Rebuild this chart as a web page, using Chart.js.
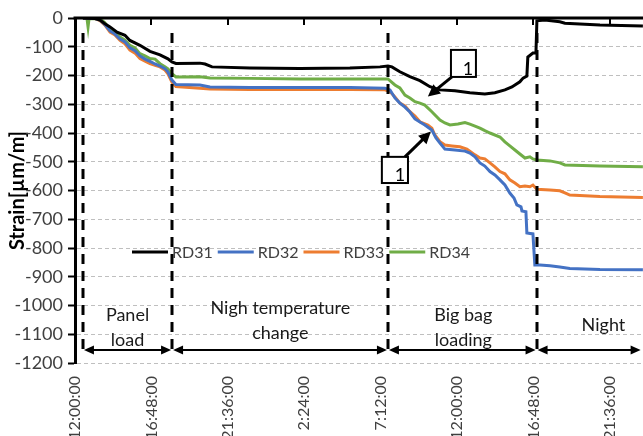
<!DOCTYPE html>
<html lang="en">
<head>
<meta charset="UTF-8">
<title>Strain RD31 - RD34</title>
<script src="https://cdn.jsdelivr.net/npm/chart.js"></script>
<style>
  html, body { margin: 0; padding: 0; background: #fff; }
  #wrap { width: 643px; height: 436px; overflow: hidden; }
  canvas { display: block; }
</style>
</head>
<body>
<div id="wrap"><canvas id="strainChart" width="660" height="480"></canvas></div>
<script>
// x axis: hours after 12:00:00 on the first day
const xTickValues = [0, 4.8, 9.6, 14.4, 19.2, 24, 28.8, 33.6];
const xTickLabels = ['12:00:00', '16:48:00', '21:36:00', '2:24:00', '7:12:00', '12:00:00', '16:48:00', '21:36:00'];
const yTickValues = [-1200, -1100, -1000, -900, -800, -700, -600, -500, -400, -300, -200, -100, 0];
const yTickLabels = ['-1200', '-1100', '-1000', '-900', '-800', '-700', '-600', '-500', '-400', '-300', '-200', '-100', '0'];

const seriesNames = ['RD31', 'RD32', 'RD33', 'RD34'];
const seriesColors = ['#000000', '#4472C4', '#ED7D31', '#70AD47'];

const rd31Hours = [0.50, 1.26, 1.57, 1.88, 2.20, 2.64, 3.14, 3.45, 4.08, 4.71, 5.34, 5.84, 6.09, 6.34, 7.85, 8.17, 8.61, 10.99, 14.13, 17.27, 19.16, 19.66, 19.91, 20.41, 21.04, 21.67, 22.30, 22.93, 23.87, 24.81, 25.75, 26.38, 27.01, 27.45, 27.64, 27.95, 28.15, 28.39, 28.45, 28.77, 28.96, 29.02, 29.52, 30.46, 30.78, 32.98, 35.68];
const rd31Strain = [0, -2, -7, -20, -31, -49, -60, -78, -95, -116, -128, -142, -153, -158, -157, -160, -170, -174, -176, -174, -170, -167, -170, -187, -204, -218, -239, -250, -253, -260, -264, -260, -250, -240, -233, -222, -209, -202, -136, -122, -122, -10, -7, -13, -18, -24, -28];

const rd32Hours = [0.50, 1.26, 1.57, 1.88, 2.20, 2.51, 2.83, 3.14, 3.45, 3.77, 4.08, 4.40, 4.71, 5.03, 5.34, 5.65, 5.84, 6.09, 6.34, 7.85, 8.48, 10.99, 14.13, 17.27, 19.47, 19.79, 20.10, 20.41, 20.73, 21.04, 21.36, 21.67, 21.98, 22.42, 22.68, 22.93, 23.24, 23.87, 24.50, 24.81, 25.13, 25.44, 25.75, 26.07, 26.38, 26.70, 27.01, 27.32, 27.58, 27.76, 28.02, 28.08, 28.33, 28.39, 28.77, 28.89, 29.21, 29.84, 30.46, 31.09, 32.98, 35.68];
const rd32Strain = [0, -2, -7, -23, -45, -56, -73, -83, -104, -114, -132, -143, -151, -160, -167, -176, -188, -216, -231, -233, -240, -242, -242, -242, -244, -250, -278, -296, -310, -327, -351, -362, -372, -390, -417, -435, -456, -459, -463, -470, -483, -504, -515, -534, -546, -563, -581, -609, -626, -650, -657, -671, -674, -748, -751, -859, -859, -862, -866, -871, -875, -876];

const rd33Hours = [0.50, 1.26, 1.57, 1.88, 2.20, 2.51, 2.83, 3.14, 3.45, 3.77, 4.08, 4.40, 4.71, 5.03, 5.34, 5.65, 5.84, 6.09, 6.34, 7.85, 8.48, 10.99, 14.13, 17.27, 19.47, 19.79, 20.10, 20.41, 20.73, 21.04, 21.36, 21.67, 22.17, 22.42, 22.61, 22.93, 23.24, 23.68, 24.18, 24.62, 25.13, 25.44, 25.75, 26.07, 26.38, 26.70, 27.01, 27.32, 27.64, 27.95, 28.27, 28.58, 28.77, 29.02, 29.84, 30.46, 30.78, 31.09, 32.98, 35.68];
const rd33Strain = [0, -2, -9, -25, -49, -59, -78, -90, -112, -122, -141, -150, -159, -165, -170, -181, -194, -223, -238, -244, -247, -249, -249, -249, -250, -256, -275, -296, -306, -326, -341, -361, -372, -383, -407, -430, -442, -445, -448, -456, -476, -487, -490, -504, -518, -534, -542, -563, -574, -587, -584, -587, -581, -596, -598, -601, -608, -616, -621, -624];

const rd34Hours = [0.50, 0.75, 0.82, 0.88, 1.26, 1.57, 1.88, 2.20, 2.51, 2.83, 3.14, 3.45, 3.77, 4.08, 4.40, 4.71, 5.03, 5.34, 5.65, 5.84, 6.09, 6.34, 7.85, 8.48, 10.99, 14.13, 17.27, 19.66, 20.10, 20.41, 20.73, 21.04, 21.36, 21.67, 21.98, 22.42, 22.68, 22.93, 23.24, 23.56, 24.06, 24.50, 24.81, 25.13, 25.44, 25.75, 26.07, 26.70, 27.01, 27.32, 27.64, 27.95, 28.27, 28.58, 28.77, 29.02, 29.84, 30.46, 30.78, 32.98, 35.68];
const rd34Strain = [0, 0, -31, -3, -2, -3, -17, -43, -49, -66, -77, -95, -104, -124, -132, -141, -143, -159, -170, -177, -194, -205, -204, -209, -210, -212, -212, -212, -233, -243, -268, -278, -291, -296, -303, -326, -341, -355, -365, -372, -369, -364, -369, -376, -383, -392, -400, -414, -431, -445, -459, -473, -487, -483, -490, -494, -497, -504, -511, -515, -517];

// test phases (hours) and their captions
const phaseBounds = [0.5, 6.1, 19.66, 29.0, 35.6];
const phaseNames = [['Panel', 'load'], ['Nigh temperature', 'change'], ['Big bag', 'loading'], ['Night']];
const phaseTextHours = [3.3, 12.9, 24.4, 33.2];
const phaseTextTop = [315, 308, 315, 325];

// callouts "1": box corners and arrow in (hours, strain)
const callouts = [
    { box: [23.62, -111, 25.19, -205], from: [23.68, -205], to: [22.17, -273] },
    { box: [19.28, -483, 20.92, -574], from: [20.73, -483], to: [22.36, -395] }
];

const FONT = 'Lato, "Open Sans", sans-serif';

function toPoints(hours, strain) {
    return hours.map((h, i) => ({ x: h, y: strain[i] }));
}

const seriesData = [
    toPoints(rd31Hours, rd31Strain),
    toPoints(rd32Hours, rd32Strain),
    toPoints(rd33Hours, rd33Strain),
    toPoints(rd34Hours, rd34Strain)
];

function arrowHead(ctx, x1, y1, x2, y2, len, half) {
    const ang = Math.atan2(y2 - y1, x2 - x1);
    ctx.beginPath();
    ctx.moveTo(x2, y2);
    ctx.lineTo(x2 - len * Math.cos(ang) + half * Math.sin(ang), y2 - len * Math.sin(ang) - half * Math.cos(ang));
    ctx.lineTo(x2 - len * Math.cos(ang) - half * Math.sin(ang), y2 - len * Math.sin(ang) + half * Math.cos(ang));
    ctx.closePath();
    ctx.fill();
}

const overlay = {
    id: 'overlay',
    afterDatasetsDraw(chart) {
        const { ctx, chartArea: a, scales: { x, y } } = chart;
        ctx.save();
        // axis line along 0 with tick marks
        const y0 = y.getPixelForValue(0);
        ctx.strokeStyle = '#000';
        ctx.lineWidth = 3;
        ctx.beginPath();
        ctx.moveTo(a.left - 1.5, y0);
        ctx.lineTo(a.right, y0);
        ctx.stroke();
        ctx.lineWidth = 2;
        xTickValues.forEach(v => {
            const px = Math.round(x.getPixelForValue(v));
            ctx.beginPath();
            ctx.moveTo(px, y0);
            ctx.lineTo(px, y0 + 7);
            ctx.stroke();
        });

        // legend inside the plot
        ctx.font = '16px ' + FONT;
        ctx.textBaseline = 'middle';
        ctx.textAlign = 'left';
        let lx = a.left + 57;
        const ly = a.top + 234;
        chart.data.datasets.forEach(ds => {
            ctx.strokeStyle = ds.borderColor;
            ctx.lineWidth = 3;
            ctx.beginPath();
            ctx.moveTo(lx, ly);
            ctx.lineTo(lx + 36, ly);
            ctx.stroke();
            ctx.fillStyle = '#404040';
            ctx.fillText(ds.label, lx + 40, ly + 1);
            lx += 40 + ctx.measureText(ds.label).width + 5;
        });
        ctx.restore();
    },
    afterDraw(chart) {
        const { ctx, scales: { x, y } } = chart;
        ctx.save();
        ctx.strokeStyle = '#000';
        ctx.fillStyle = '#000';

        // dashed phase boundaries
        ctx.lineWidth = 3;
        ctx.setLineDash([10, 7]);
        phaseBounds.slice(0, 4).forEach(h => {
            const px = Math.round(x.getPixelForValue(h));
            ctx.beginPath();
            ctx.moveTo(px, y.getPixelForValue(-52));
            ctx.lineTo(px, y.getPixelForValue(-1162));
            ctx.stroke();
        });
        ctx.setLineDash([]);

        // double arrows between boundaries
        const ay = Math.round(y.getPixelForValue(-1155));
        ctx.lineWidth = 2;
        for (let i = 0; i < phaseBounds.length - 1; i++) {
            const x1 = x.getPixelForValue(phaseBounds[i]) + 1;
            const x2 = x.getPixelForValue(phaseBounds[i + 1]) - 1;
            ctx.beginPath();
            ctx.moveTo(x1 + 4, ay);
            ctx.lineTo(x2 - 4, ay);
            ctx.stroke();
            arrowHead(ctx, x2, ay, x1, ay, 10, 4.5);
            arrowHead(ctx, x1, ay, x2, ay, 10, 4.5);
        }

        // phase captions
        ctx.font = '18px ' + FONT;
        ctx.textAlign = 'center';
        ctx.textBaseline = 'middle';
        ctx.fillStyle = '#1a1a1a';
        phaseNames.forEach((lines, i) => {
            const cx = x.getPixelForValue(phaseTextHours[i]);
            lines.forEach((t, j) => ctx.fillText(t, cx, phaseTextTop[i] + j * 25));
        });

        // callout boxes with arrows
        callouts.forEach(c => {
            const bx1 = x.getPixelForValue(c.box[0]), by1 = y.getPixelForValue(c.box[1]);
            const bx2 = x.getPixelForValue(c.box[2]), by2 = y.getPixelForValue(c.box[3]);
            ctx.fillStyle = '#fff';
            ctx.fillRect(bx1, by1, bx2 - bx1, by2 - by1);
            ctx.strokeStyle = '#000';
            ctx.lineWidth = 2;
            ctx.strokeRect(bx1, by1, bx2 - bx1, by2 - by1);
            ctx.fillStyle = '#000';
            ctx.font = '18px ' + FONT;
            ctx.fillText('1', bx2 - 8, by2 - 8);
            const fx = x.getPixelForValue(c.from[0]), fy = y.getPixelForValue(c.from[1]);
            const tx = x.getPixelForValue(c.to[0]), ty = y.getPixelForValue(c.to[1]);
            const ang = Math.atan2(ty - fy, tx - fx);
            ctx.lineWidth = 3;
            ctx.beginPath();
            ctx.moveTo(fx, fy);
            ctx.lineTo(tx - 8 * Math.cos(ang), ty - 8 * Math.sin(ang));
            ctx.stroke();
            arrowHead(ctx, fx, fy, tx, ty, 12, 6);
        });
        ctx.restore();
    }
};

new Chart(document.getElementById('strainChart'), {
    type: 'line',
    data: {
        datasets: seriesNames.map((name, i) => ({
            label: name,
            data: seriesData[i],
            borderColor: seriesColors[i],
            backgroundColor: seriesColors[i],
            borderWidth: 3,
            pointRadius: 0,
            tension: 0,
            fill: false
        }))
    },
    options: {
        responsive: false,
        animation: false,
        devicePixelRatio: 1,
        layout: { padding: { top: 18, right: 12, left: 0, bottom: 0 } },
        plugins: {
            legend: { display: false },
            tooltip: { enabled: false }
        },
        scales: {
            x: {
                type: 'linear',
                min: 0,
                max: 36,
                afterBuildTicks: s => { s.ticks = xTickValues.map(v => ({ value: v })); },
                afterFit: s => { s.height = 480 - 363; },
                ticks: {
                    autoSkip: false,
                    minRotation: 90,
                    maxRotation: 90,
                    padding: 13,
                    color: '#404040',
                    font: { family: FONT, size: 16 },
                    callback: (v, i) => xTickLabels[i]
                },
                grid: { display: false, drawTicks: false },
                border: { display: false }
            },
            y: {
                min: -1200,
                max: 0,
                afterBuildTicks: s => { s.ticks = yTickValues.map(v => ({ value: v })); },
                afterFit: s => { s.width = 75; },
                ticks: {
                    padding: 5,
                    color: '#404040',
                    font: { family: FONT, size: 18 },
                    callback: (v, i) => yTickLabels[i]
                },
                grid: {
                    color: '#bfbfbf',
                    lineWidth: 1,
                    tickColor: '#000',
                    tickWidth: 2,
                    tickLength: 7
                },
                border: { color: '#000', width: 3, dash: [4, 3] },
                title: {
                    display: true,
                    text: 'Strain[µm/m]',
                    color: '#000',
                    font: { family: FONT, size: 20, weight: 'bold' },
                    padding: { top: 6, bottom: 0 }
                }
            }
        }
    },
    plugins: [overlay]
});
</script>
</body>
</html>
